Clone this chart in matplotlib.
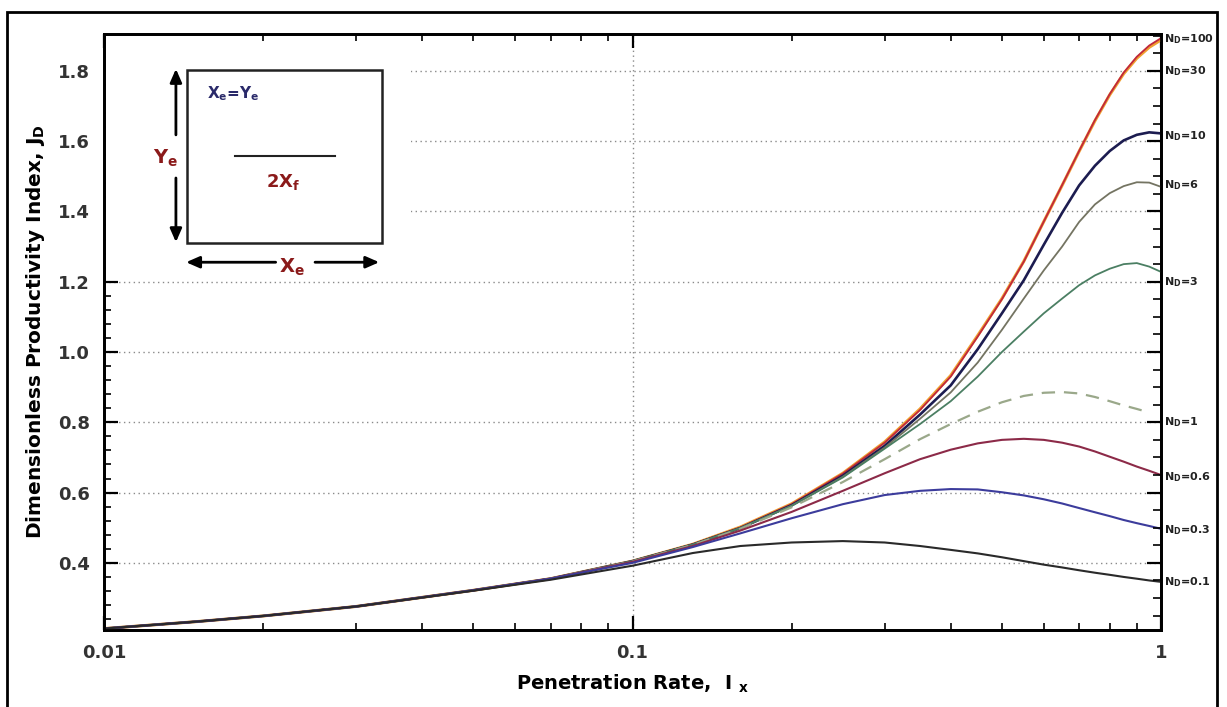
import numpy as np
import matplotlib
matplotlib.use("Agg")
import matplotlib.pyplot as plt
from matplotlib.patches import Rectangle
from matplotlib.ticker import FixedLocator, MultipleLocator, NullFormatter, LogLocator

# ---------------- data ----------------
X = [0.01, 0.015, 0.02, 0.03, 0.05, 0.07, 0.1, 0.13, 0.16, 0.2, 0.25, 0.3, 0.35,
     0.4, 0.45, 0.5, 0.55, 0.6, 0.65, 0.7, 0.75, 0.8, 0.85, 0.9, 0.95, 1.0]
X_ND1 = X[:-1]

JD_100 = [0.213, 0.233, 0.249, 0.276, 0.322, 0.355, 0.405, 0.453, 0.501, 0.567, 0.654, 0.742, 0.835,
          0.93, 1.044, 1.15, 1.257, 1.371, 1.475, 1.572, 1.66, 1.734, 1.795, 1.84, 1.872, 1.893]
JD_30 = [0.213, 0.233, 0.249, 0.276, 0.322, 0.355, 0.405, 0.453, 0.502, 0.568, 0.655, 0.744, 0.838,
         0.933, 1.047, 1.152, 1.258, 1.371, 1.474, 1.571, 1.658, 1.732, 1.792, 1.836, 1.867, 1.888]
JD_10 = [0.213, 0.233, 0.249, 0.276, 0.322, 0.355, 0.405, 0.452, 0.499, 0.564, 0.648, 0.733, 0.822,
         0.905, 1.008, 1.11, 1.204, 1.305, 1.396, 1.474, 1.53, 1.572, 1.602, 1.618, 1.625, 1.622]
JD_6 = [0.213, 0.233, 0.249, 0.276, 0.322, 0.355, 0.405, 0.452, 0.499, 0.563, 0.645, 0.728, 0.81,
        0.885, 0.97, 1.063, 1.152, 1.232, 1.30, 1.37, 1.42, 1.452, 1.472, 1.483, 1.482, 1.47]
JD_3 = [0.213, 0.233, 0.249, 0.276, 0.322, 0.355, 0.405, 0.452, 0.499, 0.562, 0.643, 0.725, 0.795,
        0.86, 0.93, 1.0, 1.058, 1.11, 1.152, 1.19, 1.218, 1.237, 1.25, 1.253, 1.243, 1.228]
JD_1 = [0.213, 0.233, 0.249, 0.276, 0.322, 0.355, 0.404, 0.451, 0.497, 0.558, 0.63, 0.695, 0.752,
        0.795, 0.83, 0.857, 0.875, 0.884, 0.886, 0.882, 0.872, 0.86, 0.848, 0.838, 0.828]
JD_06 = [0.213, 0.233, 0.249, 0.276, 0.322, 0.355, 0.403, 0.448, 0.492, 0.545, 0.605, 0.655, 0.695,
         0.722, 0.74, 0.75, 0.753, 0.75, 0.742, 0.731, 0.717, 0.702, 0.688, 0.674, 0.662, 0.65]
JD_03 = [0.213, 0.233, 0.249, 0.276, 0.322, 0.355, 0.40, 0.445, 0.484, 0.527, 0.567, 0.593, 0.605,
         0.61, 0.609, 0.601, 0.592, 0.581, 0.569, 0.556, 0.544, 0.533, 0.522, 0.513, 0.505, 0.497]
JD_01 = [0.213, 0.233, 0.249, 0.276, 0.321, 0.352, 0.392, 0.428, 0.448, 0.458, 0.462, 0.458, 0.448,
         0.437, 0.427, 0.416, 0.405, 0.395, 0.387, 0.379, 0.372, 0.366, 0.36, 0.355, 0.35, 0.346]

LABELS = ["100", "30", "10", "6", "3", "1", "0.6", "0.3", "0.1"]
LABEL_Y = [1.89, 1.80, 1.615, 1.475, 1.20, 0.80, 0.645, 0.494, 0.346]

X_TICKS = [0.01, 0.1, 1]
X_TICKLABELS = ["0.01", "0.1", "1"]
Y_TICKS = [0.4, 0.6, 0.8, 1.0, 1.2, 1.4, 1.6, 1.8]

# ---------------- figure ----------------
fig = plt.figure(figsize=(12.27, 7.07), dpi=100)
ax = fig.add_axes([0.0848, 0.1089, 0.8614, 0.8431])
ax.set_xscale("log")
ax.set_xlim(0.01, 1.0)
ax.set_ylim(0.209, 1.905)

# outer frame
fig.patches.append(Rectangle((0.0057, -0.02), 0.986, 1.003, transform=fig.transFigure,
                             fill=False, lw=2.0, ec="black"))

ax.set_axisbelow(True)
ax.grid(True, which="major", color="#8a8a8a", lw=1.0, ls=(0, (1, 2.5)))

# white cover behind inset
ax.add_patch(Rectangle((0.002, 0.596), 0.288, 0.39, transform=ax.transAxes,
                       fc="white", ec="none", zorder=1))

styles = [
    (JD_30, X, "#f0a030", 2.2, "-"),
    (JD_100, X, "#c0283c", 1.3, "-"),
    (JD_10, X, "#1c1c50", 1.9, "-"),
    (JD_6, X, "#747462", 1.3, "-"),
    (JD_3, X, "#4b7f63", 1.3, "-"),
    (JD_1, X_ND1, "#9aa88a", 1.6, (0, (6, 4))),
    (JD_06, X, "#8c2a48", 1.5, "-"),
    (JD_03, X, "#3c3c9c", 1.5, "-"),
    (JD_01, X, "#2a2a2a", 1.5, "-"),
]
for y, xx, c, lw, ls in styles:
    ax.plot(xx, y, color=c, lw=lw, ls=ls, zorder=3)

# right-hand labels
for lab, yv in zip(LABELS, LABEL_Y):
    ax.text(1.003, yv, r"N$_{\mathbf{D}}$=" + lab, transform=ax.get_yaxis_transform(),
            fontsize=8, fontweight="bold", color="#222222", va="center", ha="left")

# ticks
ax.xaxis.set_major_locator(FixedLocator(X_TICKS))
ax.set_xticklabels(X_TICKLABELS)
ax.xaxis.set_minor_locator(LogLocator(base=10, subs=np.arange(1, 10)))
ax.xaxis.set_minor_formatter(NullFormatter())
ax.yaxis.set_major_locator(FixedLocator(Y_TICKS))
ax.set_yticklabels([f"{v:.1f}" for v in Y_TICKS])
ax.yaxis.set_minor_locator(MultipleLocator(0.04))
ax.tick_params(which="major", direction="in", length=10, width=1.6, top=True, right=False,
               labelsize=13, labelcolor="#333333", pad=10)
ax.tick_params(which="minor", direction="in", length=5, width=1.2, top=True, right=False)
for lab in ax.get_xticklabels() + ax.get_yticklabels():
    lab.set_fontweight("bold")

ax2 = ax.twinx()
ax2.set_ylim(ax.get_ylim())
ax2.yaxis.set_major_locator(FixedLocator(Y_TICKS))
ax2.yaxis.set_minor_locator(MultipleLocator(0.05))
ax2.tick_params(which="major", direction="in", length=10, width=1.6, labelright=False)
ax2.tick_params(which="minor", direction="in", length=6, width=1.2)

for a in (ax, ax2):
    for s in a.spines.values():
        s.set_linewidth(2.0)

ax.set_xlabel(r"Penetration Rate,  I $_{\mathbf{x}}$", fontsize=14, fontweight="heavy", labelpad=8)
ax.set_ylabel(r"Dimensionless Productivity Index, J$_{\mathbf{D}}$", fontsize=14.5,
              fontweight="heavy", labelpad=8)

# inset schematic
T = ax.transAxes
ax.add_patch(Rectangle((0.0785, 0.649), 0.1845, 0.291, transform=T, fill=False,
                       lw=1.8, ec="#222222", zorder=4))
ax.plot([0.124, 0.2185], [0.795, 0.795], transform=T, color="#222222", lw=1.5, zorder=4)
ax.text(0.097, 0.899, r"X$_{\mathbf{e}}$=Y$_{\mathbf{e}}$", transform=T, fontsize=11,
        fontweight="bold", color="#2a2a6a", va="center", ha="left", zorder=4)
ax.text(0.169, 0.752, r"2X$_{\mathbf{f}}$", transform=T, fontsize=13, fontweight="bold",
        color="#8b1a1a", va="center", ha="center", zorder=4)
ax.text(0.058, 0.792, r"Y$_{\mathbf{e}}$", transform=T, fontsize=14, fontweight="bold",
        color="#8b1a1a", va="center", ha="center", zorder=4)
ax.text(0.178, 0.608, r"X$_{\mathbf{e}}$", transform=T, fontsize=14, fontweight="bold",
        color="#8b1a1a", va="center", ha="center", zorder=4)
arrow = dict(arrowstyle="-|>,head_length=0.8,head_width=0.35", color="black", lw=2.0)
ax.annotate("", xy=(0.068, 0.946), xytext=(0.068, 0.826), xycoords=T, textcoords=T,
            arrowprops=arrow, zorder=4)
ax.annotate("", xy=(0.068, 0.646), xytext=(0.068, 0.763), xycoords=T, textcoords=T,
            arrowprops=arrow, zorder=4)
ax.annotate("", xy=(0.075, 0.617), xytext=(0.165, 0.617), xycoords=T, textcoords=T,
            arrowprops=arrow, zorder=4)
ax.annotate("", xy=(0.263, 0.617), xytext=(0.197, 0.617), xycoords=T, textcoords=T,
            arrowprops=arrow, zorder=4)

fig.savefig("out.png", dpi=100)
